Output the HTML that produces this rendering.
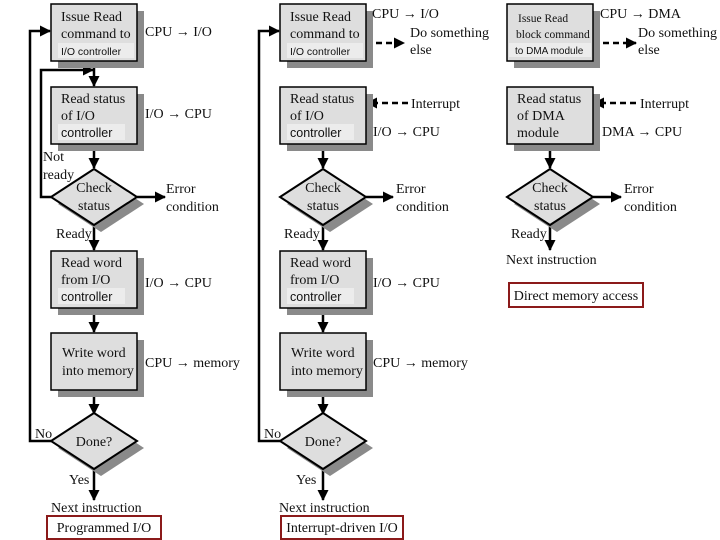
<!DOCTYPE html>
<html><head><meta charset="utf-8"><style>body{margin:0;background:#fff}svg{display:block}
.s{font-family:"Liberation Serif",serif;font-size:14px;fill:#111}
.a{font-family:"Liberation Sans",sans-serif;font-size:10.5px;fill:#111}
</style></head><body>
<svg width="720" height="540" viewBox="0 0 720 540" xmlns="http://www.w3.org/2000/svg">
<defs>
<marker id="ar" markerWidth="11" markerHeight="11" refX="10" refY="5.5" orient="auto" markerUnits="userSpaceOnUse"><path d="M0,0 L11,5.5 L0,11 z" fill="#000"/></marker>
<g id="box"><rect x="7" y="7" width="86" height="57" fill="#8a8a8a"/><rect x="0" y="0" width="86" height="57" fill="#dedede" stroke="#000" stroke-width="1.5"/></g>
<g id="dia"><path d="M7,7 L50,-21 L93,7 L50,35 z" fill="#8a8a8a"/><path d="M0,0 L43,-28 L86,0 L43,28 z" fill="#dedede" stroke="#000" stroke-width="2"/></g>
</defs>
<g fill="none" stroke="#000" stroke-width="2.5">
<line x1="94" y1="61" x2="94" y2="86" marker-end="url(#ar)"/>
<line x1="94" y1="144" x2="94" y2="168" marker-end="url(#ar)"/>
<line x1="94" y1="225" x2="94" y2="250" marker-end="url(#ar)"/>
<line x1="94" y1="308" x2="94" y2="332" marker-end="url(#ar)"/>
<line x1="94" y1="390" x2="94" y2="414" marker-end="url(#ar)"/>
<line x1="94" y1="469" x2="94" y2="500" marker-end="url(#ar)"/>
<line x1="137" y1="197" x2="165" y2="197" marker-end="url(#ar)"/>
<polyline points="51,441 30,441 30,31 50,31" marker-end="url(#ar)"/>
<polyline points="51,197 41,197 41,70 93,70" marker-end="url(#ar)"/>
<line x1="323" y1="144" x2="323" y2="168" marker-end="url(#ar)"/>
<line x1="323" y1="225" x2="323" y2="250" marker-end="url(#ar)"/>
<line x1="323" y1="308" x2="323" y2="332" marker-end="url(#ar)"/>
<line x1="323" y1="390" x2="323" y2="414" marker-end="url(#ar)"/>
<line x1="323" y1="469" x2="323" y2="500" marker-end="url(#ar)"/>
<line x1="366" y1="197" x2="393" y2="197" marker-end="url(#ar)"/>
<polyline points="280,441 259,441 259,31 279,31" marker-end="url(#ar)"/>
<line x1="366" y1="43" x2="404" y2="43" stroke-dasharray="6,4" marker-end="url(#ar)"/>
<line x1="408" y1="103" x2="367" y2="103" stroke-dasharray="6,4" marker-end="url(#ar)"/>
<line x1="550" y1="144" x2="550" y2="168" marker-end="url(#ar)"/>
<line x1="550" y1="225" x2="550" y2="250" marker-end="url(#ar)"/>
<line x1="593" y1="197" x2="621" y2="197" marker-end="url(#ar)"/>
<line x1="593" y1="43" x2="636" y2="43" stroke-dasharray="6,4" marker-end="url(#ar)"/>
<line x1="636" y1="103" x2="594" y2="103" stroke-dasharray="6,4" marker-end="url(#ar)"/>
</g>
<use href="#box" x="51" y="4"/><use href="#box" x="51" y="87"/><use href="#dia" x="51" y="197"/><use href="#box" x="51" y="251"/><use href="#box" x="51" y="333"/><use href="#dia" x="51" y="441"/>
<use href="#box" x="280" y="4"/><use href="#box" x="280" y="87"/><use href="#dia" x="280" y="197"/><use href="#box" x="280" y="251"/><use href="#box" x="280" y="333"/><use href="#dia" x="280" y="441"/>
<use href="#box" x="507" y="4"/><use href="#box" x="507" y="87"/><use href="#dia" x="507" y="197"/>
<g fill="#ececec">
<rect x="58" y="43" width="76" height="15"/><rect x="58" y="124" width="67" height="16"/><rect x="58" y="288" width="67" height="16"/>
<rect x="287" y="43" width="76" height="15"/><rect x="287" y="124" width="67" height="16"/><rect x="287" y="288" width="67" height="16"/>
<rect x="509" y="43" width="82" height="14"/>
</g>
<g class="s">
<text x="61" y="21">Issue Read</text><text x="61" y="38">command to</text><text class="a" x="61" y="55">I/O controller</text>
<text x="61" y="103">Read status</text><text x="61" y="120">of I/O</text><text class="a" x="61" y="137" style="font-size:12.5px">controller</text>
<text x="94" y="192" text-anchor="middle">Check</text><text x="94" y="210" text-anchor="middle">status</text>
<text x="61" y="267">Read word</text><text x="61" y="284">from I/O</text><text class="a" x="61" y="301" style="font-size:12.5px">controller</text>
<text x="62" y="357">Write word</text><text x="62" y="375">into memory</text>
<text x="94" y="446" text-anchor="middle">Done?</text>
<text x="145" y="36">CPU → I/O</text><text x="145" y="118">I/O → CPU</text><text x="145" y="287">I/O → CPU</text><text x="145" y="367">CPU → memory</text>
<text x="166" y="193">Error</text><text x="166" y="211">condition</text>
<text x="43" y="161">Not</text><text x="43" y="179">ready</text><text x="56" y="238">Ready</text>
<text x="35" y="438">No</text><text x="69" y="484">Yes</text>
<text x="51" y="512">Next instruction</text>
<text x="290" y="21">Issue Read</text><text x="290" y="38">command to</text><text class="a" x="290" y="55">I/O controller</text>
<text x="290" y="103">Read status</text><text x="290" y="120">of I/O</text><text class="a" x="290" y="137" style="font-size:12.5px">controller</text>
<text x="323" y="192" text-anchor="middle">Check</text><text x="323" y="210" text-anchor="middle">status</text>
<text x="290" y="267">Read word</text><text x="290" y="284">from I/O</text><text class="a" x="290" y="301" style="font-size:12.5px">controller</text>
<text x="291" y="357">Write word</text><text x="291" y="375">into memory</text>
<text x="323" y="446" text-anchor="middle">Done?</text>
<text x="372" y="18">CPU → I/O</text><text x="410" y="37">Do something</text><text x="410" y="54">else</text>
<text x="411" y="108">Interrupt</text><text x="373" y="136">I/O → CPU</text>
<text x="373" y="287">I/O → CPU</text><text x="373" y="367">CPU → memory</text>
<text x="396" y="193">Error</text><text x="396" y="211">condition</text>
<text x="284" y="238">Ready</text><text x="264" y="438">No</text><text x="296" y="484">Yes</text>
<text x="279" y="512">Next instruction</text>
<text x="518" y="22" style="font-size:11.5px">Issue Read</text><text x="516" y="38" style="font-size:11.5px">block command</text><text class="a" x="515" y="54" style="font-size:10px">to DMA module</text>
<text x="517" y="103">Read status</text><text x="517" y="120">of DMA</text><text x="517" y="137">module</text>
<text x="550" y="192" text-anchor="middle">Check</text><text x="550" y="210" text-anchor="middle">status</text>
<text x="600" y="18">CPU → DMA</text><text x="638" y="37">Do something</text><text x="638" y="54">else</text>
<text x="640" y="108">Interrupt</text><text x="602" y="136">DMA → CPU</text>
<text x="624" y="193">Error</text><text x="624" y="211">condition</text>
<text x="511" y="238">Ready</text><text x="506" y="264">Next instruction</text>
</g>
<g fill="none" stroke="#8b1a1a" stroke-width="2">
<rect x="47" y="516" width="114" height="23"/><rect x="281" y="516" width="122" height="23"/><rect x="509" y="283" width="134" height="24"/>
</g>
<g class="s">
<text x="104" y="532" text-anchor="middle">Programmed I/O</text>
<text x="342" y="532" text-anchor="middle">Interrupt-driven I/O</text>
<text x="576" y="300" text-anchor="middle">Direct memory access</text>
</g>
</svg>
</body></html>
